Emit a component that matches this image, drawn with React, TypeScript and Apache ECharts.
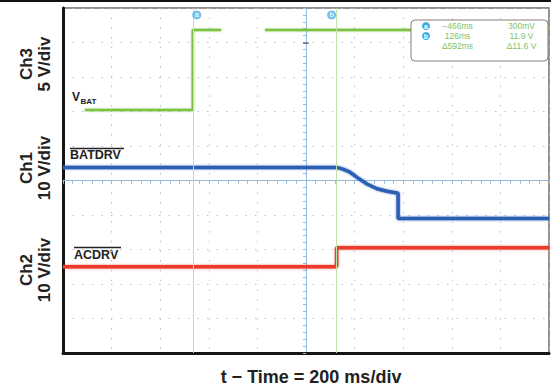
import React, { useEffect, useRef } from "react";
import * as echarts from "echarts";

// Time axis: 200 ms/div, 10 divisions
const timeMin = -1000;
const timeMax = 1000;
const timeStep = 200;

// Ch3 VBAT (5 V/div)
const vbatTimes = [-910, -466, -466, -349, -349, -169, 1000];
const vbatVolts: (number | null)[] = [0.3, 0.3, 11.9, 11.9, null, 11.9, 11.9];

// Ch1 BATDRV (10 V/div)
const batdrvTimes = [-1000, 126, 152, 181, 210, 251, 292, 333, 374, 379, 379, 1000];
const batdrvVolts = [14.8, 14.8, 14.3, 13.4, 11.9, 10.0, 8.6, 7.9, 7.4, 7.3, 0, 0];

// Ch2 ACDRV (10 V/div)
const acdrvTimes = [-1000, 126, 126, 1000];
const acdrvVolts = [0, 0, 5.5, 5.5];

// Cursors
const cursorNames = ["a", "b"];
const cursorTimes = [-466, 126];
const cursorVolts = [0.3, 11.9];

// Trigger level (Ch3, volts)
const triggerLevel = 10;

const channelLabels = [
  { name: "Ch3", scale: "5 V/div" },
  { name: "Ch1", scale: "10 V/div" },
  { name: "Ch2", scale: "10 V/div" },
];

const FONT = "'Liberation Sans', Arial, Helvetica, sans-serif";

const fmtTime = (t: number) => (t < 0 ? "\u2212" + Math.abs(t) : String(t)) + "ms";
const fmtVolt = (v: number) => (Math.abs(v) < 1 ? Math.round(v * 1000) + "mV" : v.toFixed(1) + " V");

export default function App() {
  const ref = useRef<HTMLDivElement>(null);
  useEffect(() => {
    document.body.style.margin = "0";
    if (!ref.current) return;
    const chart = echarts.init(ref.current, undefined, { renderer: "svg" });

    // channel scale (V/div) and ground offset (div from center) — layout
    const ch3 = { scale: 5, offset: 1.98 };
    const ch1 = { scale: 10, offset: -1.1 };
    const ch2 = { scale: 10, offset: -2.5 };
    const toDiv = (v: number | null, c: { scale: number; offset: number }) =>
      v == null ? "-" : v / c.scale + c.offset;
    const build = (ts: number[], vs: (number | null)[], c: { scale: number; offset: number }) =>
      ts.map((t, i) => [t, toDiv(vs[i], c)]);

    const gridBlue = "#a3c6e6";
    const centerBlue = "#93badf";

    const baseX = {
      type: "value",
      min: timeMin,
      max: timeMax,
      interval: timeStep,
      axisLabel: { show: false },
    };
    const baseY = {
      type: "value",
      min: -5,
      max: 5,
      interval: 1,
      axisLabel: { show: false },
    };

    const deltaT = cursorTimes[1] - cursorTimes[0];
    const deltaV = cursorVolts[1] - cursorVolts[0];
    const rowsCol1 = [fmtTime(cursorTimes[0]), fmtTime(cursorTimes[1]), "\u0394" + deltaT + "ms"];
    const rowsCol2 = [fmtVolt(cursorVolts[0]), fmtVolt(cursorVolts[1]), "\u0394" + deltaV.toFixed(1) + " V"];
    const boxGreen = "#80c46a";
    const rowY = [26, 36, 46];

    const graphics: any[] = [
      { type: "rect", shape: { x: 0, y: 0, width: 551, height: 2 }, style: { fill: "#111" }, z: 100 },
      {
        type: "rect",
        shape: { x: 411, y: 20, width: 137, height: 41, r: 4 },
        style: { fill: "#fff", stroke: "#8a7d74", lineWidth: 1 },
        z: 100,
      },
    ];
    cursorNames.forEach((n, i) => {
      graphics.push({ type: "circle", shape: { cx: 426, cy: rowY[i], r: 4 }, style: { fill: "#3fa9e2" }, z: 101 });
      graphics.push({
        type: "text",
        x: 426,
        y: rowY[i],
        style: { text: n, fill: "#fff", font: `bold 7px ${FONT}`, align: "center", verticalAlign: "middle" },
        z: 102,
      });
    });
    rowsCol1.forEach((s, i) => {
      graphics.push({
        type: "text",
        x: 457.5,
        y: rowY[i],
        style: { text: s, fill: boxGreen, font: `8.5px ${FONT}`, align: "center", verticalAlign: "middle" },
        z: 101,
      });
    });
    rowsCol2.forEach((s, i) => {
      graphics.push({
        type: "text",
        x: 521.5,
        y: rowY[i],
        style: { text: s, fill: boxGreen, font: `8.5px ${FONT}`, align: "center", verticalAlign: "middle" },
        z: 101,
      });
    });
    // channel labels (rotated)
    const chY = [64, 168, 270];
    channelLabels.forEach((c, i) => {
      graphics.push({
        type: "text",
        x: 26,
        y: chY[i],
        rotation: Math.PI / 2,
        style: { text: c.name, fill: "#222", font: `bold 17px ${FONT}`, align: "center", verticalAlign: "middle" },
      });
      graphics.push({
        type: "text",
        x: 44,
        y: chY[i],
        rotation: Math.PI / 2,
        style: { text: c.scale, fill: "#222", font: `bold 17px ${FONT}`, align: "center", verticalAlign: "middle" },
      });
    });
    // trace labels
    graphics.push(
      { type: "text", x: 72, y: 97, style: { text: "V", fill: "#222", font: `bold 12px ${FONT}`, align: "left", verticalAlign: "middle" } },
      { type: "text", x: 80.5, y: 101, style: { text: "BAT", fill: "#222", font: `bold 8px ${FONT}`, align: "left", verticalAlign: "middle" } },
      { type: "text", x: 70, y: 155, style: { text: "BATDRV", fill: "#222", font: `bold 12.5px ${FONT}`, align: "left", verticalAlign: "middle" } },
      { type: "line", shape: { x1: 70, y1: 148.5, x2: 124, y2: 148.5 }, style: { stroke: "#222", lineWidth: 1.5 } },
      { type: "text", x: 74, y: 254.5, style: { text: "ACDRV", fill: "#222", font: `bold 12.5px ${FONT}`, align: "left", verticalAlign: "middle" } },
      { type: "line", shape: { x1: 74, y1: 247.5, x2: 121, y2: 247.5 }, style: { stroke: "#222", lineWidth: 1.5 } },
      { type: "text", x: 311, y: 377, style: { text: "t \u2212 Time = 200 ms/div", fill: "#222", font: `bold 18px ${FONT}`, align: "center", verticalAlign: "middle" } }
    );

    chart.setOption({
      animation: false,
      backgroundColor: "#fff",
      grid: {
        left: 63,
        top: 8,
        width: 486,
        height: 345,
        show: true,
        borderColor: "#7a6d64",
        borderWidth: 1.5,
        backgroundColor: "transparent",
      },
      xAxis: [
        {
          ...baseX,
          position: "bottom",
          axisLine: { show: true, onZero: true, lineStyle: { color: centerBlue, width: 1 } },
          axisTick: { show: true, length: 3, lineStyle: { color: centerBlue } },
          minorTick: { show: true, splitNumber: 5, length: 3, lineStyle: { color: centerBlue } },
          splitLine: { show: true, lineStyle: { color: gridBlue, type: [1.5, 8.2], width: 1 } },
        },
        {
          ...baseX,
          position: "top",
          axisLine: { show: false, onZero: true },
          axisTick: { show: true, inside: true, length: 3, lineStyle: { color: centerBlue } },
          minorTick: { show: true, splitNumber: 5, length: 3, lineStyle: { color: centerBlue } },
          splitLine: { show: false },
        },
        {
          ...baseX,
          position: "bottom",
          axisLine: { show: true, onZero: false, lineStyle: { color: "#151515", width: 3 } },
          axisTick: { show: false },
          splitLine: { show: false },
        },
      ],
      yAxis: [
        {
          ...baseY,
          position: "left",
          axisLine: { show: true, onZero: true, lineStyle: { color: centerBlue, width: 1 } },
          axisTick: { show: true, length: 3, lineStyle: { color: centerBlue } },
          minorTick: { show: true, splitNumber: 5, length: 3, lineStyle: { color: centerBlue } },
          splitLine: { show: true, lineStyle: { color: gridBlue, type: [1.5, 8.1], width: 1 } },
        },
        {
          ...baseY,
          position: "right",
          axisLine: { show: false, onZero: true },
          axisTick: { show: true, inside: true, length: 3, lineStyle: { color: centerBlue } },
          minorTick: { show: true, splitNumber: 5, length: 3, lineStyle: { color: centerBlue } },
          splitLine: { show: false },
        },
        {
          ...baseY,
          position: "left",
          axisLine: { show: true, onZero: false, lineStyle: { color: "#151515", width: 3 } },
          axisTick: { show: false },
          splitLine: { show: false },
        },
      ],
      series: [
        {
          type: "line",
          name: "cursors",
          data: [],
          z: 1,
          markLine: {
            silent: true,
            symbol: "none",
            label: { show: false },
            lineStyle: { color: "#bfe2a6", type: "solid", width: 1 },
            data: cursorTimes.map((t) => ({ xAxis: t })),
          },
        },
        {
          type: "line",
          name: "VBAT",
          data: build(vbatTimes, vbatVolts, ch3),
          showSymbol: false,
          connectNulls: false,
          lineStyle: { color: "#7cc142", width: 2.5, shadowBlur: 2, shadowColor: "rgba(124,193,66,0.6)" },
          z: 3,
        },
        {
          type: "line",
          name: "BATDRV",
          data: build(batdrvTimes, batdrvVolts, ch1),
          showSymbol: false,
          lineStyle: { color: "#2c5fb3", width: 3.5, shadowBlur: 2, shadowColor: "rgba(44,95,179,0.7)" },
          z: 3,
        },
        {
          type: "line",
          name: "ACDRV",
          data: build(acdrvTimes, acdrvVolts, ch2),
          showSymbol: false,
          lineStyle: { color: "#ec3a2b", width: 3.5, shadowBlur: 2, shadowColor: "rgba(236,58,43,0.7)" },
          z: 3,
        },
        {
          type: "scatter",
          name: "trigger",
          data: [[0, toDiv(triggerLevel, ch3)]],
          symbol: "rect",
          symbolSize: [6, 1.5],
          itemStyle: { color: "#555" },
          z: 4,
        },
        {
          type: "scatter",
          name: "cursorMarks",
          data: cursorTimes.map((t, i) => ({
            value: [t, 4.8],
            name: cursorNames[i],
            symbolOffset: [i === 0 ? 4 : -5, 0],
          })),
          symbol: "circle",
          symbolSize: 9,
          itemStyle: { color: "#4bb0e6" },
          label: {
            show: true,
            position: "inside",
            formatter: "{b}",
            color: "#fff",
            fontSize: 8,
            fontWeight: "bold",
            fontFamily: FONT,
          },
          labelLayout: { hideOverlap: false },
          z: 5,
        },
      ],
      graphic: graphics,
    });
    return () => chart.dispose();
  }, []);
  return <div ref={ref} style={{ width: 551, height: 390 }} />;
}
